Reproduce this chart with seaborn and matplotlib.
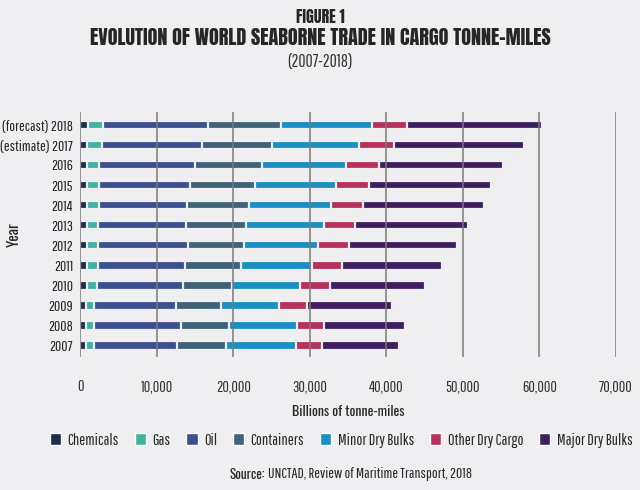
import numpy as np
import pandas as pd
import matplotlib
matplotlib.use("Agg")
import matplotlib.pyplot as plt
from matplotlib.patches import Patch
import seaborn as sns

# data (billions of tonne-miles), top row first
years = ["(forecast) 2018", "(estimate) 2017", "2016", "2015", "2014", "2013",
         "2012", "2011", "2010", "2009", "2008", "2007"]
chemicals = [1000, 900, 900, 900, 900, 900, 900, 900, 900, 800, 800, 800]
gas = [2000, 2000, 1600, 1600, 1600, 1500, 1500, 1500, 1300, 1000, 1000, 1000]
oil = [13700, 13000, 12500, 11900, 11500, 11400, 11700, 11300, 11200, 10700, 11400, 10900]
containers = [9500, 9200, 8800, 8400, 8100, 7900, 7300, 7300, 6400, 5900, 6300, 6400]
minor_dry = [11900, 11300, 10900, 10600, 10700, 10200, 9700, 9300, 8900, 7600, 8800, 9100]
other_dry = [4600, 4600, 4300, 4300, 4100, 4000, 4000, 3900, 3900, 3600, 3600, 3400]
major_dry = [17600, 17000, 16200, 16000, 15800, 14800, 14100, 13100, 12400, 11100, 10500, 10000]

cargo = ["Chemicals", "Gas", "Oil", "Containers", "Minor Dry Bulks",
         "Other Dry Cargo", "Major Dry Bulks"]
colors = ["#1f2b4f", "#3fb39c", "#3c4f8e", "#3e6379", "#1a8fc2", "#b6325d", "#3d1f5e"]
bg = "#efeff1"

df = pd.DataFrame({"year": years, "Chemicals": chemicals, "Gas": gas, "Oil": oil,
                   "Containers": containers, "Minor Dry Bulks": minor_dry,
                   "Other Dry Cargo": other_dry, "Major Dry Bulks": major_dry})
cum = df[cargo].cumsum(axis=1)
cum["year"] = df["year"]

sns.set_theme(style="white")
plt.rcParams["font.family"] = ["Pathway Gothic One", "DejaVu Sans"]
head = ["Anton", "DejaVu Sans"]
semi = ["Oswald", "DejaVu Sans"]

fig = plt.figure(figsize=(6.4, 4.9), dpi=100, facecolor=bg)
ax = fig.add_axes([0.125, 0.272, 0.8375, 0.500])
ax.set_facecolor(bg)

# stacked bars: draw the running totals from the biggest down
for name, col in reversed(list(zip(cargo, colors))):
    sns.barplot(data=cum, x=name, y="year", orient="h", color=col, width=0.42,
                edgecolor=bg, linewidth=1.6, saturation=1, ax=ax, zorder=2)

ax.set_xlim(0, 70000)
ax.set_ylim(11.55, -0.65)
ticks = np.arange(0, 70001, 10000)
ax.set_xticks(ticks)
ax.set_xticklabels([f"{t:,}" for t in ticks], fontsize=11.5, color="#333333")
for t in ticks:
    ax.axvline(t, color="#7a7a7a", lw=1.1, zorder=3)
for s in ax.spines.values():
    s.set_visible(False)
ax.tick_params(axis="x", length=4, width=1, color="#999999", pad=12)
ax.tick_params(axis="y", length=0, labelsize=11, pad=5, labelcolor="#222222")
ax.set_xlabel("Billions of tonne-miles", fontsize=10, family=semi, labelpad=8)
ax.set_ylabel("Year", fontsize=11, family=semi)
ax.yaxis.set_label_coords(-0.108, 0.5)

fig.text(0.5, 0.982, "FIGURE 1", ha="center", va="top", fontsize=11.5, family=head)
fig.text(0.5, 0.942, "EVOLUTION OF WORLD SEABORNE TRADE IN CARGO TONNE-MILES",
         ha="center", va="top", fontsize=14.5, family=head)
fig.text(0.5, 0.888, "(2007-2018)", ha="center", va="top", fontsize=12.5, color="#333333")

handles = [Patch(facecolor=c, label=n) for n, c in zip(cargo, colors)]
fig.legend(handles=handles, loc="center", bbox_to_anchor=(0.533, 0.102), ncol=7,
           frameon=False, fontsize=11.5, handlelength=0.7, handleheight=0.7,
           handletextpad=0.4, columnspacing=1.0)

fig.text(0.414, 0.032, "Source:", ha="right", va="center", fontsize=9.5, family=semi)
fig.text(0.419, 0.032, "UNCTAD, Review of Maritime Transport, 2018",
         ha="left", va="center", fontsize=11)

fig.savefig("out.png", dpi=100, facecolor=bg)
